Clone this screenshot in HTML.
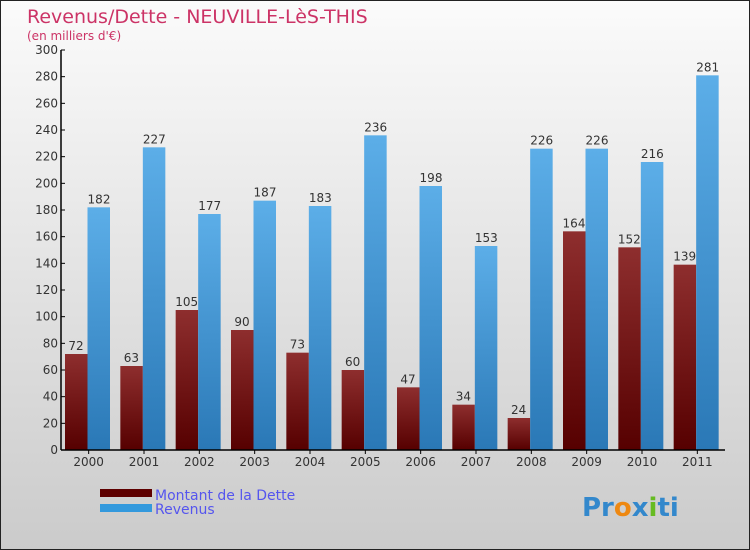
<!DOCTYPE html>
<html><head><meta charset="utf-8"><style>
body{margin:0}
#c{width:750px;height:550px;position:relative;overflow:hidden}
svg text{font-family:"DejaVu Sans","Liberation Sans",sans-serif}
</style></head><body>
<div id="c">
<svg id="s" width="750" height="550" xmlns="http://www.w3.org/2000/svg">
<defs>
<linearGradient id="bg" x1="0" y1="0" x2="0" y2="1"><stop offset="0" stop-color="#fbfbfb"/><stop offset="1" stop-color="#cbcbcb"/></linearGradient>
<linearGradient id="gd" x1="0" y1="0" x2="0" y2="1"><stop offset="0" stop-color="#8e2e2e"/><stop offset="1" stop-color="#560000"/></linearGradient>
<linearGradient id="gr" x1="0" y1="0" x2="0" y2="1"><stop offset="0" stop-color="#5caee8"/><stop offset="1" stop-color="#2a78b6"/></linearGradient>
</defs>
<rect x="0" y="0" width="750" height="550" fill="url(#bg)" stroke="#222" stroke-width="2"/>
<text x="27" y="23" font-size="19" fill="#cc3366">Revenus/Dette - NEUVILLE-LèS-THIS</text>
<text x="27" y="40" font-size="12" fill="#cc3366">(en milliers d'€)</text>
<g id="plot"></g>
<rect x="100" y="489" width="52" height="8" fill="#5e0000"/>
<rect x="100" y="504" width="52" height="8" fill="#3399dd"/>
<text x="155" y="500" font-size="14" fill="#5555ee">Montant de la Dette</text>
<text x="155" y="514" font-size="14" fill="#5555ee">Revenus</text>
<text x="582" y="516" font-size="26" font-weight="bold" fill="#3399cc"><tspan fill="#3388cc">Pr</tspan><tspan fill="#ee8811">o</tspan><tspan fill="#3388cc">x</tspan><tspan fill="#66bb22">i</tspan><tspan fill="#3388cc">ti</tspan></text>
</svg></div>
<script>
const years=["2000","2001","2002","2003","2004","2005","2006","2007","2008","2009","2010","2011"];
const debt=[72,63,105,90,73,60,47,34,24,164,152,139];
const revenue=[182,227,177,187,183,236,198,153,226,226,216,281];
const yTicks=[0,20,40,60,80,100,120,140,160,180,200,220,240,260,280,300];
const NS="http://www.w3.org/2000/svg";
const g=document.getElementById('plot');
const x0=61,x1=725,yB=450,yT=50,yMax=300;
const gw=(x1-x0)/years.length;
function y(v){return yB-(v/yMax)*(yB-yT);}
function mk(t,a){const e=document.createElementNS(NS,t);for(const k in a)e.setAttribute(k,a[k]);g.appendChild(e);return e;}
years.forEach((yr,i)=>{
  const gx=x0+i*gw;
  const d=mk('rect',{x:gx+4,y:y(debt[i]),width:22.5,height:yB-y(debt[i]),fill:'url(#gd)'});
  
  
  const r=mk('rect',{x:gx+26.5,y:y(revenue[i]),width:22.5,height:yB-y(revenue[i]),fill:'url(#gr)'});
  
  
  const t1=mk('text',{x:gx+15,y:y(debt[i])-4,'font-size':12,'text-anchor':'middle',fill:'#333'});
  t1.textContent=debt[i];
  
  
  const t2=mk('text',{x:gx+38,y:y(revenue[i])-4,'font-size':12,'text-anchor':'middle',fill:'#333'});
  t2.textContent=revenue[i];
  
  
  const xl=mk('text',{x:gx+gw/2,y:466,'font-size':12,'text-anchor':'middle',fill:'#333'});
  xl.textContent=yr;
  
  
  const tk=mk('line',{x1:gx+gw/2,x2:gx+gw/2,y1:450,y2:454,stroke:'#000'});
  
  
});
yTicks.forEach(v=>{
  const l=mk('line',{x1:x0,x2:x0+4,y1:y(v),y2:y(v),stroke:'#000'});
  
  
  const t=mk('text',{x:x0-3,y:y(v)+4,'font-size':12,'text-anchor':'end',fill:'#333'});
  t.textContent=v;
  
  
});
const ya=mk('line',{x1:x0,x2:x0,y1:yT,y2:yB,stroke:'#000','stroke-width':1.5});


const xa=mk('line',{x1:x0,x2:x1,y1:yB,y2:yB,stroke:'#000','stroke-width':1.5});


</script>
</body></html>
